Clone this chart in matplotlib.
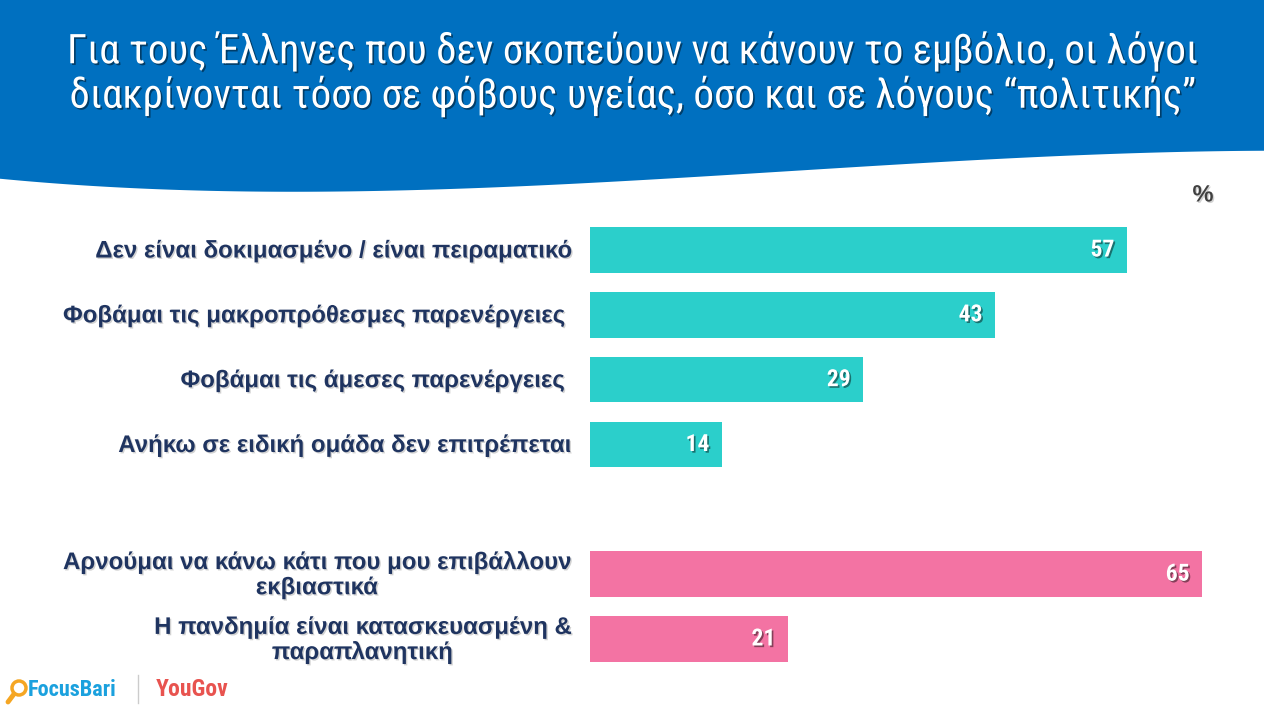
import numpy as np
import matplotlib
matplotlib.use("Agg")
import matplotlib.pyplot as plt
import matplotlib.patheffects as pe
from matplotlib.patches import Circle, Polygon

# data
labels = [
    "Δεν είναι δοκιμασμένο / είναι πειραματικό",
    "Φοβάμαι τις μακροπρόθεσμες παρενέργειες ",
    "Φοβάμαι τις άμεσες παρενέργειες ",
    "Ανήκω σε ειδική ομάδα δεν επιτρέπεται",
    "Αρνούμαι να κάνω κάτι που μου επιβάλλουν\nεκβιαστικά",
    "Η πανδημία είναι κατασκευασμένη &\nπαραπλανητική",
]
values = [57, 43, 29, 14, 65, 21]
positions = [0, 1, 2, 3, 5, 6]
groups = ["health", "health", "health", "health", "politics", "politics"]

title = ("Για τους Έλληνες που δεν σκοπεύουν να κάνουν το εμβόλιο, οι λόγοι\n"
         "διακρίνονται τόσο σε φόβους υγείας, όσο και σε λόγους “πολιτικής”")

BLUE = "#0070C0"
TEAL = "#2BCFCB"
PINK = "#F373A3"
NAVY = "#1F3460"
group_colors = {"health": TEAL, "politics": PINK}

NARROW = ["Roboto Condensed", "DejaVu Sans"]
ARIAL = ["Liberation Sans", "DejaVu Sans"]

W, H = 1264, 711
fig = plt.figure(figsize=(W / 100, H / 100), dpi=100)
fig.patch.set_facecolor("white")

# background axes in pixel coordinates
bg = fig.add_axes([0, 0, 1, 1])
bg.set_xlim(0, W)
bg.set_ylim(H, 0)
bg.axis("off")

# wavy blue header
wx = np.array([0, 347, 615, 806, 1008, 1264])
wy = np.array([179, 190, 184, 169, 158, 151])
coef = np.polyfit(wx, wy, 3)
xs = np.linspace(0, W, 200)
ys = np.polyval(coef, xs)
pts = np.vstack([[0, 0], np.column_stack([xs, ys]), [W, 0]])
bg.add_patch(Polygon(pts, closed=True, facecolor=BLUE, edgecolor="none"))

shadow_dark = [pe.SimplePatchShadow(offset=(1.2, -1.2), shadow_rgbFace="black", alpha=0.45), pe.Normal()]
shadow_soft = [pe.SimplePatchShadow(offset=(1, -1), shadow_rgbFace="gray", alpha=0.35), pe.Normal()]

bg.text(W / 2, 74, title, ha="center", va="center", color="white", fontsize=29.5,
        family=NARROW, linespacing=1.14, path_effects=shadow_dark)

bg.text(1203, 195, "%", ha="center", va="center", color="#404040", fontsize=17,
        fontweight="bold", family=ARIAL, path_effects=shadow_soft)

# logos
bg.add_patch(Circle((19, 688), 7, facecolor="none", edgecolor="#F5A623", lw=2.5))
bg.plot([14, 8], [694, 702], color="#F5A623", lw=3.5, solid_capstyle="round")
bg.text(28, 690, "FocusBari", ha="left", va="center", color="#1BA1DE", fontsize=16,
        fontweight="bold", family=NARROW)
bg.plot([138, 138], [675, 703], color="#CCCCCC", lw=1)
bg.text(156, 690, "YouGov", ha="left", va="center", color="#E8534F", fontsize=17,
        fontweight="bold", family=NARROW)

# bar axes
x0, x1 = 590, 1202
y_top, y_bot = 217.6, 671.4
ax = fig.add_axes([x0 / W, 1 - y_bot / H, (x1 - x0) / W, (y_bot - y_top) / H])
ax.set_xlim(0, 65)
ax.set_ylim(6.5, -0.5)
ax.axis("off")

colors = [group_colors[g] for g in groups]
ax.barh(positions, values, height=0.70, color=colors, edgecolor="none")

for p, v, lab in zip(positions, values, labels):
    ax.text(v - 1.3, p, str(v), ha="right", va="center", color="white", fontsize=17,
            fontweight="bold", family=NARROW, path_effects=shadow_dark)
    bg.text(570, (y_top + (p + 0.5) * (y_bot - y_top) / 7) + 1, lab, ha="right", va="center",
            multialignment="center", color=NAVY, fontsize=17.3, fontweight="bold",
            family=ARIAL, linespacing=1.12, path_effects=shadow_soft)

fig.savefig("out.png", dpi=100)
